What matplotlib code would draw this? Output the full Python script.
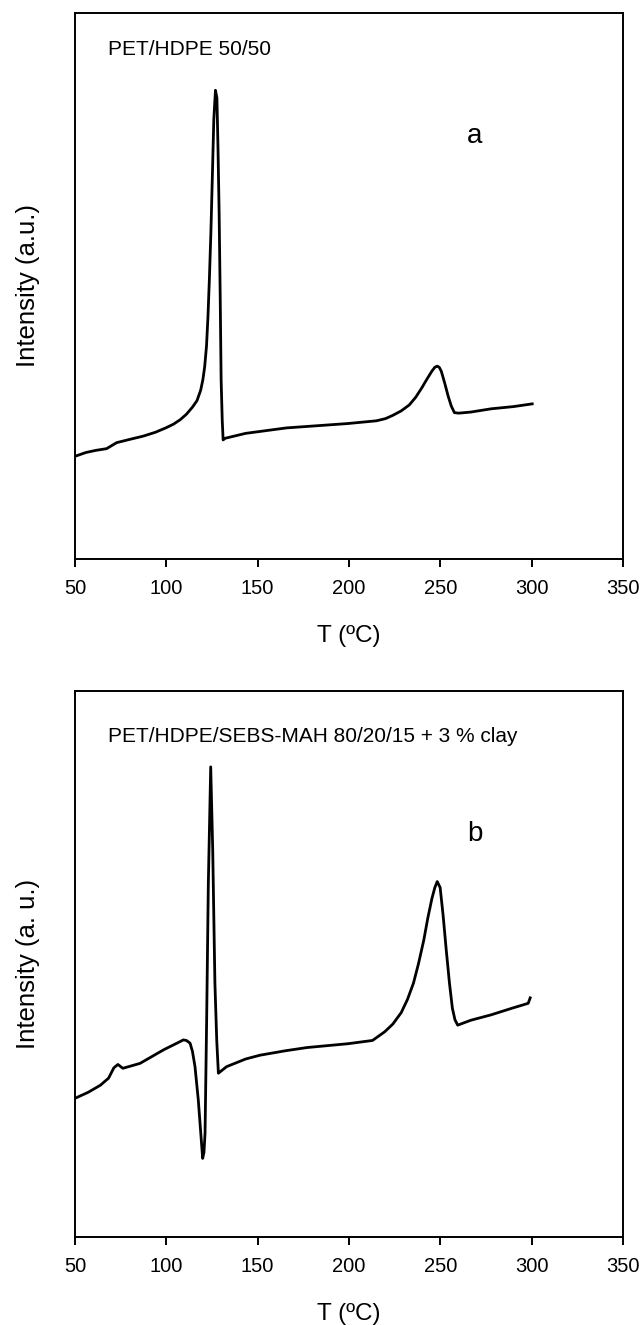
import matplotlib
matplotlib.use('Agg')
import matplotlib.pyplot as plt

plt.rcParams['font.family'] = ['Liberation Sans', 'DejaVu Sans']

# DSC traces (y in % of the axes height)
T_a = [50, 56, 61.6, 67.3, 72.8, 80, 87.4, 94, 99.7, 104, 107.6, 111, 114.3, 116.8, 118.8, 120, 121,
       122, 122.8, 123.6, 124.4, 125.2, 126, 126.9, 127.7, 128.3, 128.9, 129.5, 130, 130.6, 131.1,
       132.2, 143.4, 165.8, 199.4, 215, 220, 224, 228.5, 233, 236.5, 239.8, 242.8, 245.4, 247, 248.3,
       249.4, 250.5, 252.4, 254.3, 256, 257.7, 260, 266.7, 277.9, 290, 300.3]
I_a = [18.8, 19.5, 19.9, 20.2, 21.3, 21.9, 22.5, 23.2, 24.0, 24.7, 25.5, 26.5, 27.8, 29.0, 30.9, 32.8, 35.2,
       39.0, 44.4, 51.5, 59.8, 70.0, 80.5, 85.8, 84.4, 75.0, 63.6, 48.0, 32.8, 25.5, 21.8,
       22.1, 23.0, 24.0, 24.8, 25.3, 25.7, 26.3, 27.1, 28.2, 29.6, 31.3, 33.0, 34.4, 35.1, 35.3,
       35.1, 34.4, 32.2, 29.8, 28.0, 26.8, 26.7, 26.9, 27.5, 27.9, 28.4]

T_b = [50, 57.2, 63.9, 68.4, 71.3, 73.5, 76.2, 85.6, 98.6, 107.6, 109.3, 111, 113.0, 114.3, 115.7, 117.5,
       119.0, 119.9, 120.6, 121.2, 122.1, 123.0, 124.3, 125.4, 126.6, 127.6, 128.5, 130, 133.0,
       143.4, 151.3, 165, 177, 199.4, 212.9, 219.6, 224, 228.6, 232, 235.3, 238, 240.9, 243.2, 245.4,
       247, 248.3, 249.9, 251.5, 253.2, 255, 256.6, 258, 259.5, 266.7, 277.9, 289.2, 298.1, 299.2]
I_b = [25.4, 26.5, 27.8, 29.1, 31.0, 31.6, 30.9, 31.8, 34.3, 35.8, 36.1, 36.0, 35.5, 34.0, 31.2, 25.1,
       18.4, 14.4, 15.5, 19.0, 40.3, 64.8, 86.1, 70.9, 46.5, 36.0, 30.0, 30.4, 31.2,
       32.6, 33.3, 34.1, 34.7, 35.4, 36.0, 37.6, 39.0, 41.1, 43.5, 46.5, 50.0, 54.3, 58.5, 62.0,
       64.0, 65.1, 64.0, 59.0, 52.7, 46.5, 41.9, 39.8, 38.8, 39.7, 40.7, 41.9, 42.8, 43.8]

panel_titles = ['PET/HDPE 50/50', 'PET/HDPE/SEBS-MAH 80/20/15 + 3 % clay']
panel_tags = ['a', 'b']
ylabels = ['Intensity (a.u.)', 'Intensity (a. u.)']
xticks = [50, 100, 150, 200, 250, 300, 350]

fig = plt.figure(figsize=(6.42, 13.25), dpi=100)
ax1 = fig.add_axes([0.1168, 0.5781, 0.8536, 0.4123])
ax2 = fig.add_axes([0.1168, 0.0664, 0.8536, 0.4121])

series = [(T_a, I_a), (T_b, I_b)]
title_y = [0.923, 0.907]
tag_y = [0.762, 0.725]

for i, ax in enumerate([ax1, ax2]):
    T, I = series[i]
    ax.plot(T, I, color='black', lw=2.0, solid_joinstyle='round')
    ax.set_xlim(50, 350)
    ax.set_ylim(0, 100)
    ax.set_xticks(xticks)
    ax.set_yticks([])
    ax.tick_params(axis='x', direction='out', length=5.5, width=1.4, labelsize=14.5, pad=9)
    for sp in ax.spines.values():
        sp.set_linewidth(1.4)
    ax.set_xlabel('T (ºC)', fontsize=17.5, labelpad=19)
    ax.set_ylabel(ylabels[i], fontsize=18.5, labelpad=25)
    ax.text(0.06, title_y[i], panel_titles[i], transform=ax.transAxes, fontsize=15,
            va='baseline', ha='left')
    ax.text(269, tag_y[i], panel_tags[i], transform=ax.get_xaxis_transform(), fontsize=20,
            va='baseline', ha='center')

fig.savefig('out.png', dpi=100)
